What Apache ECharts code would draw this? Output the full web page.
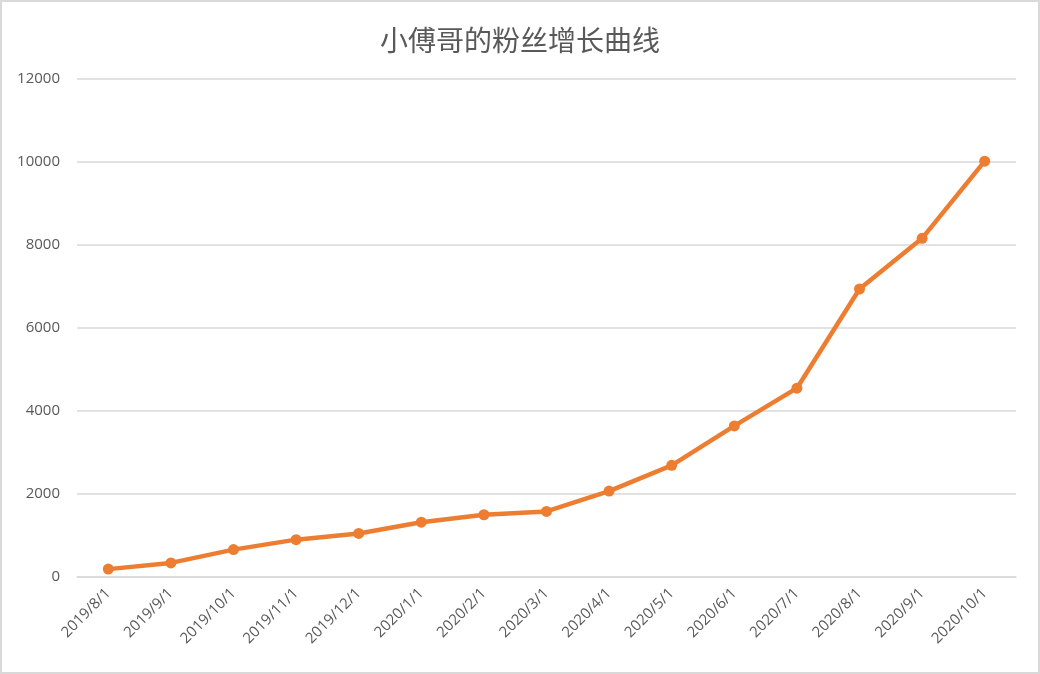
<!DOCTYPE html>
<html>
<head>
<meta charset="utf-8">
<script src="https://cdn.jsdelivr.net/npm/echarts@6/dist/echarts.min.js"></script>
<style>
html,body{margin:0;padding:0;background:#fff;}
#frame{width:1040px;height:674px;box-sizing:border-box;border:2px solid #d9d9d9;position:relative;}
#chart{position:absolute;left:-2px;top:-2px;width:1040px;height:674px;}
</style>
</head>
<body>
<div id="frame"><div id="chart"></div></div>
<script>
const titleText = '小傅哥的粉丝增长曲线';
const categories = ['2019/8/1','2019/9/1','2019/10/1','2019/11/1','2019/12/1','2020/1/1','2020/2/1','2020/3/1','2020/4/1','2020/5/1','2020/6/1','2020/7/1','2020/8/1','2020/9/1','2020/10/1'];
const fans = [190, 340, 660, 900, 1050, 1320, 1500, 1580, 2070, 2690, 3640, 4550, 6940, 8160, 10020];

const chart = echarts.init(document.getElementById('chart'));
chart.setOption({
  animation: false,
  title: {
    text: titleText,
    left: 'center',
    top: 21,
    textStyle: {fontFamily: 'Noto Sans CJK SC', fontSize: 28, fontWeight: 'normal', color: '#595959'}
  },
  grid: {left: 77, right: 24, top: 79, bottom: 97, containLabel: false},
  xAxis: {
    type: 'category',
    data: categories,
    boundaryGap: true,
    axisLine: {show: true, lineStyle: {color: '#d9d9d9', width: 1.5}},
    axisTick: {show: false},
    axisLabel: {rotate: 45, color: '#595959', fontSize: 15, fontFamily: 'Open Sans', margin: 14, interval: 0}
  },
  yAxis: {
    type: 'value',
    min: 0,
    max: 12000,
    interval: 2000,
    axisLine: {show: false},
    axisTick: {show: false},
    axisLabel: {color: '#595959', fontSize: 15, fontFamily: 'Open Sans', margin: 17, formatter: v => String(v)},
    splitLine: {lineStyle: {color: '#d9d9d9', width: 1.5}}
  },
  series: [{
    type: 'line',
    data: fans,
    symbol: 'circle',
    symbolSize: 11,
    lineStyle: {color: '#ED7D31', width: 4.5},
    itemStyle: {color: '#ED7D31'}
  }]
});
</script>
</body>
</html>
